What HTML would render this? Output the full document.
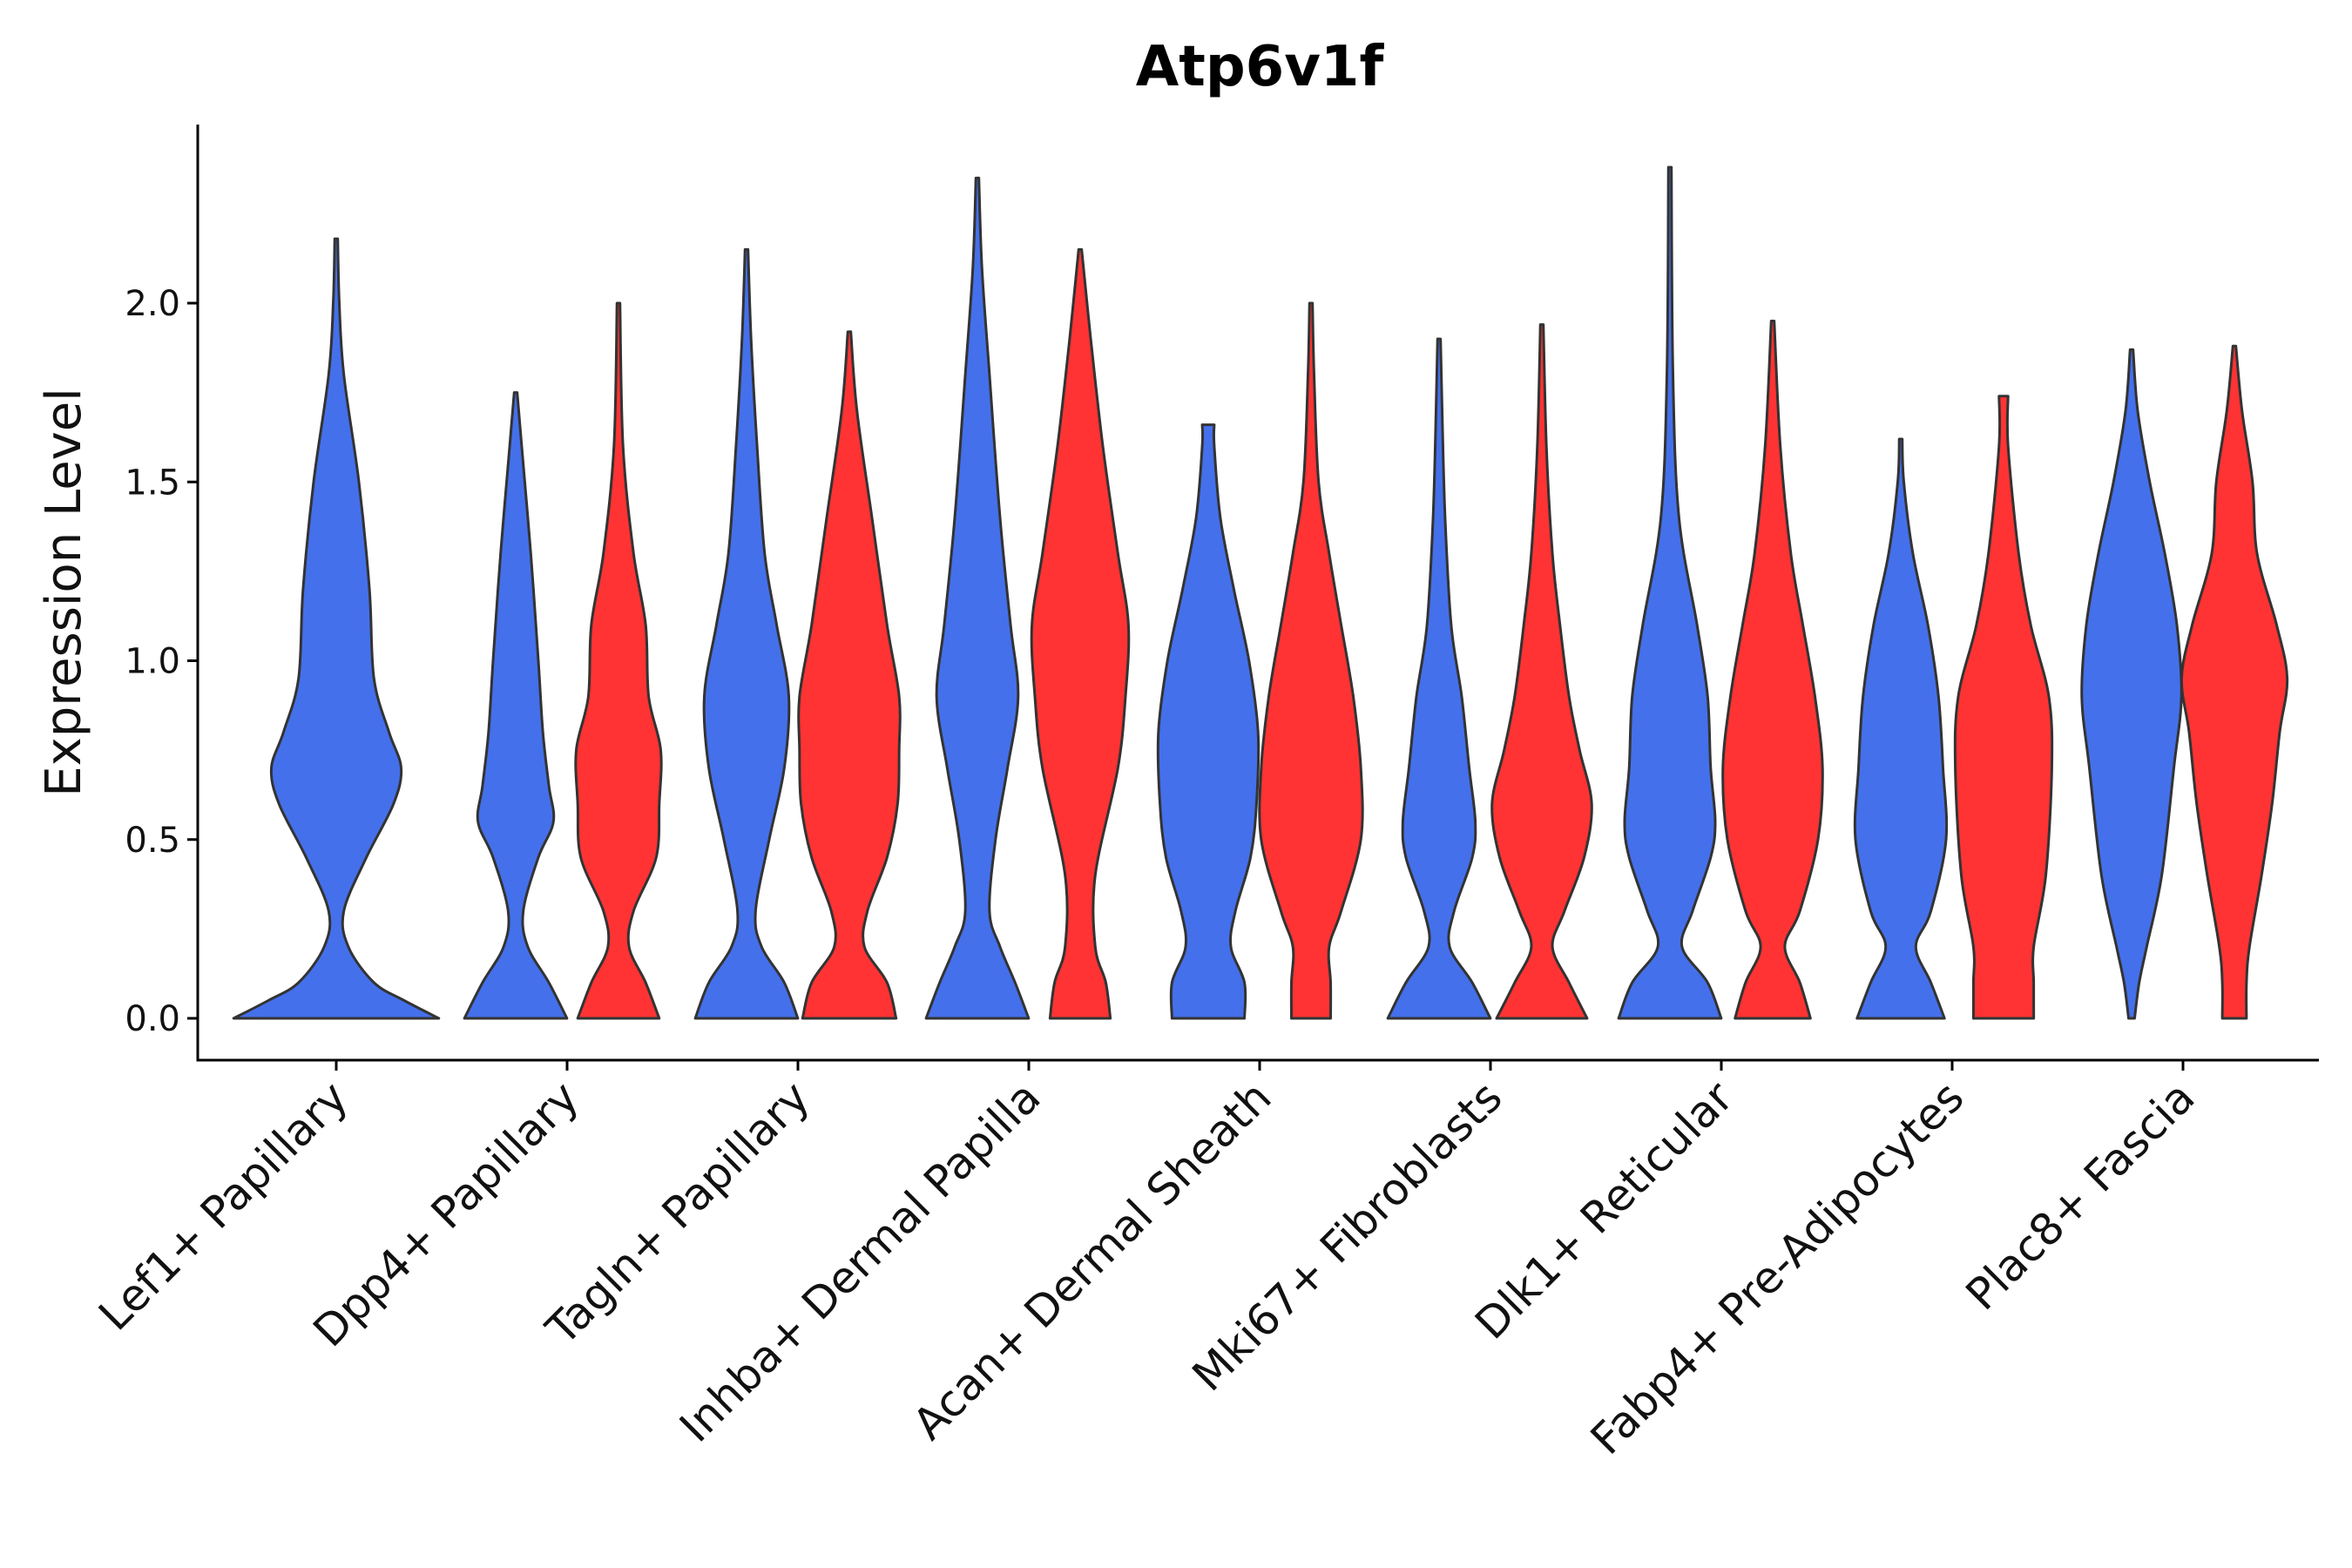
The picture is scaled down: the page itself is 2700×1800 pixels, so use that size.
<!DOCTYPE html>
<html><head><meta charset="utf-8">
<style>
html,body{margin:0;padding:0;background:#fff;}
svg{display:block;font-family:"DejaVu Sans","Liberation Sans",sans-serif;}
</style></head>
<body>
<svg id="chart" width="2700" height="1800" viewBox="0 0 2700 1800">
<text x="1446" y="98" text-anchor="middle" font-size="64" font-weight="bold">Atp6v1f</text>
<text transform="translate(92,680) rotate(-90)" text-anchor="middle" font-size="56" fill="#111">Expression Level</text>
<g id="plot"></g>
</svg>
<script>
const categories = ["Lef1+ Papillary","Dpp4+ Papillary","Tagln+ Papillary","Inhba+ Dermal Papilla","Acan+ Dermal Sheath","Mki67+ Fibroblasts","Dlk1+ Reticular","Fabp4+ Pre-Adipocytes","Plac8+ Fascia"];
const yTicks = [0, 0.5, 1.0, 1.5, 2.0];
const yTickLabels = ["0.0","0.5","1.0","1.5","2.0"];
const lef1Levels = [0,0.05,0.1,0.2,0.3,0.45,0.6,0.7,0.8,0.95,1.2,1.5,1.8,2.0,2.18];
const lef1Widths = [68,45,25,8,5,20,38,43,35,25,22,15,5,2,1];
const dpp4BlueLevels=[0,0.1,0.2,0.3,0.45,0.55,0.65,0.8,1.0,1.3,1.6,1.75];
const dpp4BlueWidths=[34,22,8,5,15,25,22,18,15,10,4,1];
const dpp4RedLevels=[0,0.1,0.2,0.3,0.45,0.6,0.75,0.9,1.1,1.3,1.6,2.0];
const dpp4RedWidths=[27,18,7,10,25,27,28,20,18,10,3,1];
const taglnBlueLevels=[0,0.1,0.2,0.3,0.5,0.7,0.9,1.1,1.3,1.6,1.9,2.15];
const taglnBlueWidths=[34,25,10,6,15,25,28,20,12,7,3,1];
const taglnRedLevels=[0,0.1,0.2,0.3,0.45,0.6,0.75,0.9,1.1,1.4,1.7,1.92];
const taglnRedWidths=[31,25,10,12,25,32,33,33,25,15,5,1];
const inhbaBlueLevels=[0,0.1,0.2,0.3,0.5,0.7,0.9,1.1,1.4,1.8,2.1,2.35];
const inhbaBlueWidths=[34,25,15,8,12,20,27,22,15,8,3,1];
const inhbaRedLevels=[0,0.1,0.2,0.4,0.7,0.9,1.1,1.3,1.6,1.9,2.15];
const inhbaRedWidths=[20,17,10,10,25,30,32,25,15,7,1];
const acanBlueLevels=[0,0.1,0.2,0.3,0.45,0.6,0.8,1.0,1.2,1.4,1.6,1.66];
const acanBlueWidths=[24,24,15,18,28,32,33,27,17,8,4,4];
const acanRedLevels=[0,0.1,0.2,0.3,0.5,0.7,0.9,1.1,1.3,1.5,1.8,2.0];
const acanRedWidths=[13,13,12,20,33,33,28,20,12,5,2,1];
const mkiBlueLevels=[0,0.1,0.2,0.3,0.45,0.55,0.7,0.9,1.1,1.4,1.7,1.9];
const mkiBlueWidths=[34,22,7,10,22,24,20,15,8,4,2,1];
const mkiRedLevels=[0,0.1,0.2,0.3,0.45,0.6,0.75,0.9,1.1,1.3,1.6,1.94];
const mkiRedWidths=[30,18,7,15,28,33,25,18,12,7,3,1];
const dlkBlueLevels=[0,0.1,0.2,0.3,0.45,0.55,0.7,0.9,1.1,1.4,1.8,2.38];
const dlkBlueWidths=[34,25,8,15,27,30,27,25,18,6,2,1];
const dlkRedLevels=[0,0.1,0.2,0.3,0.5,0.7,0.9,1.1,1.3,1.6,1.95];
const dlkRedWidths=[25,18,8,18,30,33,28,20,12,5,1];
const fabBlueLevels=[0,0.1,0.2,0.3,0.5,0.7,0.9,1.1,1.3,1.5,1.62];
const fabBlueWidths=[29,20,10,20,30,28,25,18,8,2,1];
const fabRedLevels=[0,0.1,0.2,0.4,0.7,0.9,1.1,1.3,1.6,1.74];
const fabRedWidths=[20,20,20,28,32,30,18,10,3,3];
const placBlueLevels=[0,0.1,0.2,0.4,0.7,0.9,1.1,1.3,1.5,1.7,1.87];
const placBlueWidths=[2,5,10,20,28,33,30,22,12,4,1];
const placRedLevels=[0,0.1,0.2,0.4,0.6,0.8,0.95,1.1,1.3,1.5,1.7,1.88];
const placRedWidths=[8,8,10,18,25,30,35,28,15,12,5,1];
const violins = [
 [0,-1,lef1Levels,lef1Widths],
 [1,0,dpp4BlueLevels,dpp4BlueWidths],[1,1,dpp4RedLevels,dpp4RedWidths],
 [2,0,taglnBlueLevels,taglnBlueWidths],[2,1,taglnRedLevels,taglnRedWidths],
 [3,0,inhbaBlueLevels,inhbaBlueWidths],[3,1,inhbaRedLevels,inhbaRedWidths],
 [4,0,acanBlueLevels,acanBlueWidths],[4,1,acanRedLevels,acanRedWidths],
 [5,0,mkiBlueLevels,mkiBlueWidths],[5,1,mkiRedLevels,mkiRedWidths],
 [6,0,dlkBlueLevels,dlkBlueWidths],[6,1,dlkRedLevels,dlkRedWidths],
 [7,0,fabBlueLevels,fabBlueWidths],[7,1,fabRedLevels,fabRedWidths],
 [8,0,placBlueLevels,placBlueWidths],[8,1,placRedLevels,placRedWidths]
];

const NS="http://www.w3.org/2000/svg";
const g=document.getElementById('plot');
const X0=227, Y0=1217, XR=2662;
function yScale(v){return 1169 - v*410.5;}
function xScale(i){return 386 + i*265;}
const wScale=1.732, offset=59;
function mk(tag,attrs){const e=document.createElementNS(NS,tag);for(const k in attrs)e.setAttribute(k,attrs[k]);g.appendChild(e);return e;}

function smooth(pts){
  let d="";
  for(let i=0;i<pts.length-1;i++){
    const p0=pts[Math.max(0,i-1)],p1=pts[i],p2=pts[i+1],p3=pts[Math.min(pts.length-1,i+2)];
    const c1=[p1[0]+(p2[0]-p0[0])/6,p1[1]+(p2[1]-p0[1])/6];
    const c2=[p2[0]-(p3[0]-p1[0])/6,p2[1]-(p3[1]-p1[1])/6];
    d+=` C${c1[0].toFixed(1)},${c1[1].toFixed(1)} ${c2[0].toFixed(1)},${c2[1].toFixed(1)} ${p2[0].toFixed(1)},${p2[1].toFixed(1)}`;
  }
  return d;
}
violins.forEach(v=>{
  const [ci,grp,lv,ws]=v;
  const cx=xScale(ci)+(grp===-1?0:(grp===0?-offset:offset));
  const right=lv.map((y,k)=>[cx+ws[k]*wScale,yScale(y)]);
  const left=lv.map((y,k)=>[cx-ws[k]*wScale,yScale(y)]).reverse();
  let d=`M${left[left.length-1][0]},${left[left.length-1][1]} L${right[0][0]},${right[0][1]}`+smooth(right);
  d+=` L${left[0][0]},${left[0][1]}`+smooth(left)+" Z";
  const p=mk('path',{d:d,fill:grp===1?'#ff3333':'#4470eb',stroke:'#333','stroke-width':3,'stroke-linejoin':'round'});
  
  
});

const ya=mk('line',{x1:X0,y1:143,x2:X0,y2:Y0,stroke:'#000','stroke-width':3});


const xa=mk('line',{x1:X0-1.5,y1:Y0,x2:XR,y2:Y0,stroke:'#000','stroke-width':3});


yTicks.forEach((t,i)=>{
  const y=yScale(t);
  const tk=mk('line',{x1:X0-12,y1:y,x2:X0,y2:y,stroke:'#000','stroke-width':3});
  
  
  const tx=mk('text',{x:X0-20,y:y+14,'text-anchor':'end','font-size':40,fill:'#111'});
  tx.textContent=yTickLabels[i];
  
  
});
categories.forEach((c,i)=>{
  const x=xScale(i);
  const tk=mk('line',{x1:x,y1:Y0,x2:x,y2:Y0+12,stroke:'#000','stroke-width':3});
  
  
  const tx=mk('text',{transform:`translate(${x+16},${Y0+46}) rotate(-45)`,'text-anchor':'end','font-size':50,fill:'#111'});
  tx.textContent=c;
  
  
});
</script>
</body></html>
